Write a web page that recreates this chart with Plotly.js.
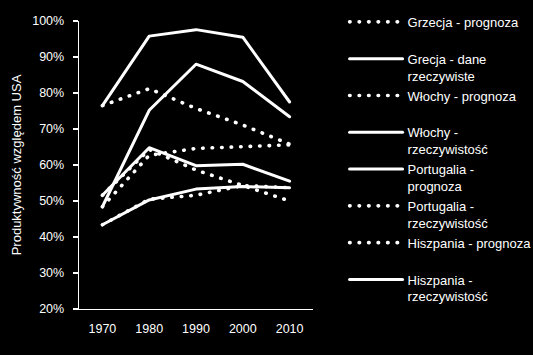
<!DOCTYPE html>
<html>
<head>
<meta charset="utf-8">
<script src="https://cdn.plot.ly/plotly-3.0.1.min.js"></script>
<style>
html, body { margin: 0; padding: 0; background: #000; }
#chart { width: 533px; height: 355px; }
.scatterlayer .js-line, .legend .js-line { stroke-linecap: round; stroke-linejoin: round; }
</style>
</head>
<body>
<div id="chart"></div>
<script>
// Categories (years)
const years = ["1970", "1980", "1990", "2000", "2010"];

// Series names (legend labels, with line breaks as in the original)
const names = [
  "Grzecja - prognoza<br>\u00a0",
  "Grecja - dane<br>rzeczywiste",
  "Włochy - prognoza<br>\u00a0",
  "Włochy -<br>rzeczywistość",
  "Portugalia -<br>prognoza",
  "Portugalia -<br>rzeczywistość",
  "Hiszpania - prognoza<br>\u00a0",
  "Hiszpania -<br>rzeczywistość"
];

// Values (share of USA productivity, %)
const grecjaPrognoza      = [76.5, 81.2, 75.7, 71.1, 65.8];
const grecjaDane          = [76.5, 95.8, 97.6, 95.5, 77.5];
const wlochyPrognoza      = [48.4, 62.7, 64.6, 65.0, 65.6];
const wlochyRzecz         = [48.4, 75.2, 88.0, 83.2, 73.4];
const portugaliaPrognoza  = [51.6, 64.8, 59.8, 60.2, 55.5];
const portugaliaRzecz     = [51.6, 64.3, 58.6, 54.2, 50.0];
const hiszpaniaPrognoza   = [43.4, 50.5, 51.6, 54.3, 53.7];
const hiszpaniaRzecz      = [43.4, 50.3, 53.3, 54.0, 53.7];

const seriesValues = [grecjaPrognoza, grecjaDane, wlochyPrognoza, wlochyRzecz,
                      portugaliaPrognoza, portugaliaRzecz, hiszpaniaPrognoza, hiszpaniaRzecz];
const dotted = [true, false, true, false, false, true, true, false];

const yTickVals = [20, 30, 40, 50, 60, 70, 80, 90, 100];
const yTickText = ["20%", "30%", "40%", "50%", "60%", "70%", "80%", "90%", "100%"];

const traces = seriesValues.map((vals, i) => ({
  type: "scatter",
  mode: "lines",
  x: years,
  y: vals,
  name: names[i],
  line: dotted[i]
    ? { color: "#ffffff", width: 3.6, dash: "0.5px,9px" }
    : { color: "#ffffff", width: 3 },
  hoverinfo: "x+y+name"
}));

const layout = {
  width: 533,
  height: 355,
  paper_bgcolor: "#000000",
  plot_bgcolor: "#000000",
  font: { family: "Liberation Sans, Arial, sans-serif", color: "#ffffff", size: 12.5 },
  margin: { l: 79, r: 220, t: 21, b: 46, pad: 0, autoexpand: false },
  showlegend: true,
  legend: {
    x: 1.135,
    xanchor: "left",
    y: 1.049,
    yanchor: "top",
    valign: "top",
    itemwidth: 53,
    maxheight: 350,
    font: { family: "Liberation Sans, Arial, sans-serif", color: "#ffffff", size: 13 },
    bgcolor: "rgba(0,0,0,0)"
  },
  xaxis: {
    type: "category",
    range: [-0.5, 4.5],
    showgrid: false,
    zeroline: false,
    showline: true,
    linecolor: "#ffffff",
    linewidth: 1.3,
    ticks: "",
    ticklabelstandoff: 8,
    automargin: false,
    tickfont: { color: "#ffffff", size: 12.5 }
  },
  yaxis: {
    range: [20, 100],
    tickvals: yTickVals,
    ticktext: yTickText,
    showgrid: false,
    zeroline: false,
    showline: true,
    linecolor: "#ffffff",
    linewidth: 1.3,
    ticks: "outside",
    ticklen: 5,
    tickcolor: "#ffffff",
    tickwidth: 1.3,
    ticklabelstandoff: 6,
    automargin: false,
    tickfont: { color: "#ffffff", size: 12.5 },
    title: { text: "Produktywność względem USA", font: { color: "#ffffff", size: 13 }, standoff: 7 }
  }
};

Plotly.newPlot("chart", traces, layout, { displayModeBar: false, staticPlot: true });
</script>
</body>
</html>
